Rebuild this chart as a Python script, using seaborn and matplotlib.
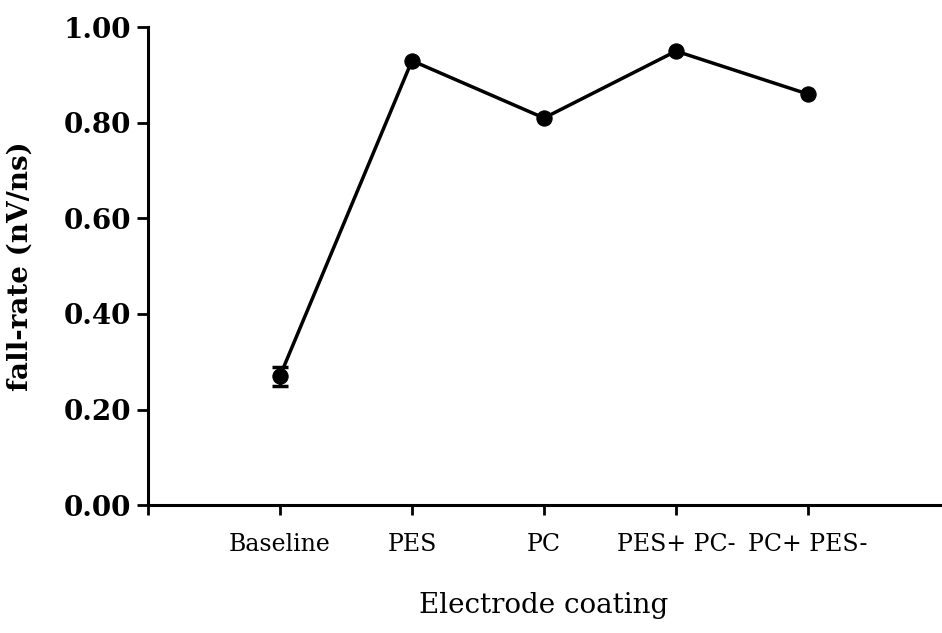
import numpy as np
import pandas as pd
import matplotlib
matplotlib.use("Agg")
import matplotlib.pyplot as plt
import seaborn as sns

# values
coatings = ["Baseline", "PES", "PC", "PES+ PC-", "PC+ PES-"]
fall_rate = [0.27, 0.93, 0.81, 0.95, 0.86]
fall_err = [0.02, 0.0, 0.0, 0.0, 0.0]
y_ticks = [0.0, 0.2, 0.4, 0.6, 0.8, 1.0]

df = pd.DataFrame({"coating": coatings, "rate": fall_rate, "err": fall_err})
df["pos"] = np.arange(1, len(df) + 1)

sns.set_style("ticks")
plt.rcParams["font.family"] = ["DejaVu Serif"]
plt.rcParams["text.color"] = "black"
plt.rcParams["axes.labelcolor"] = "black"
plt.rcParams["xtick.color"] = "black"
plt.rcParams["ytick.color"] = "black"

fig = plt.figure(figsize=(9.42, 6.33), dpi=100)
ax = fig.add_axes([0.157, 0.202, 0.841, 0.755])

sns.lineplot(data=df, x="pos", y="rate", color="black", linewidth=2.5,
             marker="o", markersize=11, markeredgecolor="black", ax=ax)
ax.errorbar(df["pos"][:1], df["rate"][:1], yerr=df["err"][:1], fmt="none",
            ecolor="black", elinewidth=2.5, capsize=6, capthick=2.5)

ax.set_xlim(0, 6)
ax.set_ylim(0, 1.0)
ax.set_yticks(y_ticks)
ax.set_yticklabels([f"{v:.2f}" for v in y_ticks], fontsize=20, fontweight="bold")
ax.set_xticks([0] + list(df["pos"]))
ax.set_xticklabels([""] + coatings, fontsize=17)

ax.tick_params(axis="both", direction="out", width=2, color="black")
ax.tick_params(axis="y", length=8, pad=4)
ax.tick_params(axis="x", length=7, pad=13)

for s in ["top", "right"]:
    ax.spines[s].set_visible(False)
for s in ["left", "bottom"]:
    ax.spines[s].set_linewidth(2.2)
    ax.spines[s].set_color("black")

ax.set_ylabel("fall-rate (nV/ns)", fontsize=20, fontweight="bold", labelpad=22)
ax.set_xlabel("Electrode coating", fontsize=20, labelpad=26)

fig.savefig("out.png", dpi=100)
